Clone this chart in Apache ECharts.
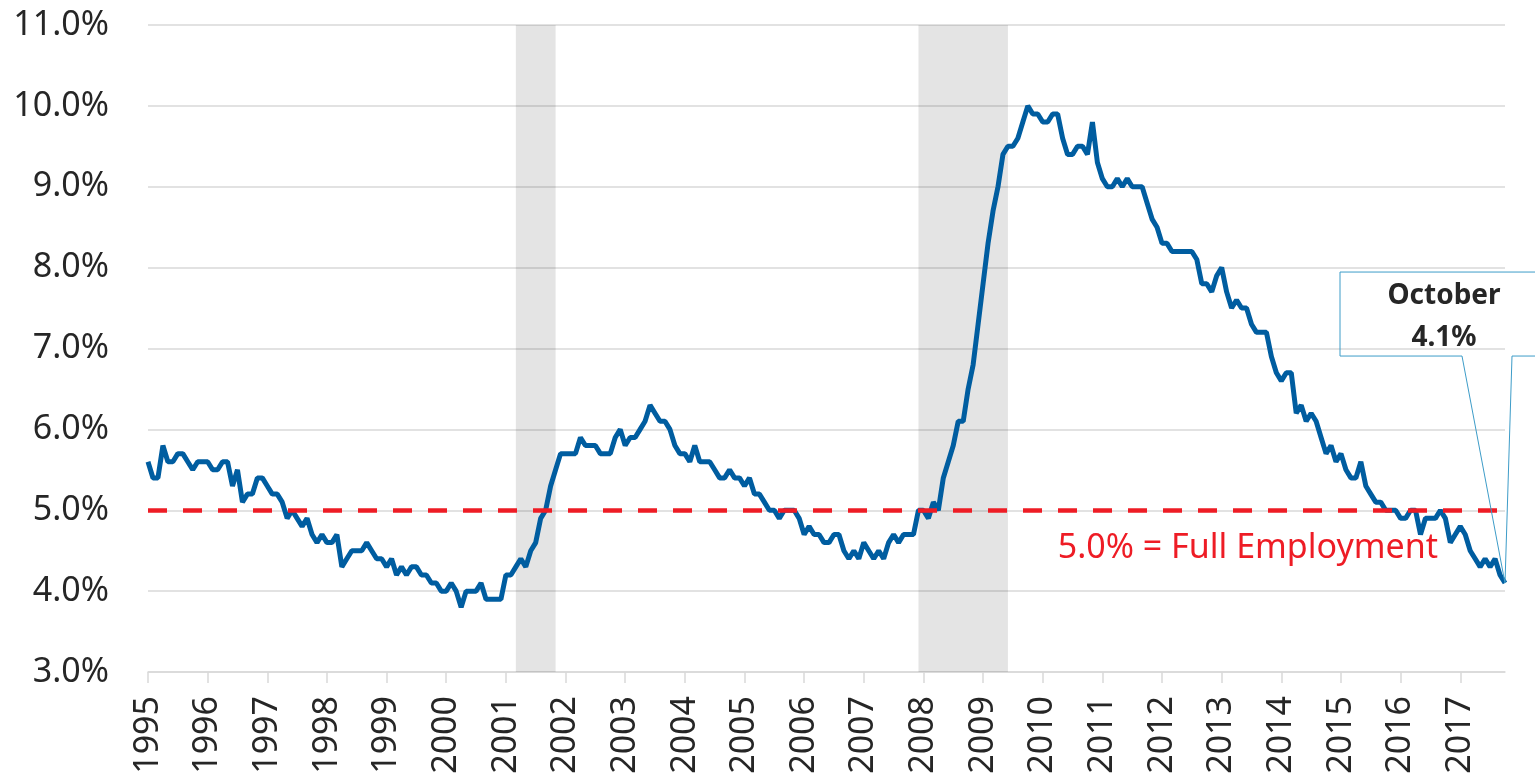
<!DOCTYPE html>
<html>
<head>
<meta charset="utf-8">
<script src="https://cdn.jsdelivr.net/npm/echarts@6/dist/echarts.min.js"></script>
<style>
    html, body { margin: 0; padding: 0; background: #fff; }
    #chart-panel { width: 1535px; height: 779px; }
</style>
</head>
<body>
<div id="chart-panel"></div>
<script>
// monthly categories, Jan 1995 .. Oct 2017
var months = []
for (var y = 1995; y <= 2017; y++) {
    for (var m = 1; m <= 12; m++) {
        if (y === 2017 && m > 10) break
        months.push(y + '-' + (m < 10 ? '0' + m : m))
    }
}

// unemployment rate, %, one row per year
var rates = [
    5.6, 5.4, 5.4, 5.8, 5.6, 5.6, 5.7, 5.7, 5.6, 5.5, 5.6, 5.6, // 1995
    5.6, 5.5, 5.5, 5.6, 5.6, 5.3, 5.5, 5.1, 5.2, 5.2, 5.4, 5.4, // 1996
    5.3, 5.2, 5.2, 5.1, 4.9, 5.0, 4.9, 4.8, 4.9, 4.7, 4.6, 4.7, // 1997
    4.6, 4.6, 4.7, 4.3, 4.4, 4.5, 4.5, 4.5, 4.6, 4.5, 4.4, 4.4, // 1998
    4.3, 4.4, 4.2, 4.3, 4.2, 4.3, 4.3, 4.2, 4.2, 4.1, 4.1, 4.0, // 1999
    4.0, 4.1, 4.0, 3.8, 4.0, 4.0, 4.0, 4.1, 3.9, 3.9, 3.9, 3.9, // 2000
    4.2, 4.2, 4.3, 4.4, 4.3, 4.5, 4.6, 4.9, 5.0, 5.3, 5.5, 5.7, // 2001
    5.7, 5.7, 5.7, 5.9, 5.8, 5.8, 5.8, 5.7, 5.7, 5.7, 5.9, 6.0, // 2002
    5.8, 5.9, 5.9, 6.0, 6.1, 6.3, 6.2, 6.1, 6.1, 6.0, 5.8, 5.7, // 2003
    5.7, 5.6, 5.8, 5.6, 5.6, 5.6, 5.5, 5.4, 5.4, 5.5, 5.4, 5.4, // 2004
    5.3, 5.4, 5.2, 5.2, 5.1, 5.0, 5.0, 4.9, 5.0, 5.0, 5.0, 4.9, // 2005
    4.7, 4.8, 4.7, 4.7, 4.6, 4.6, 4.7, 4.7, 4.5, 4.4, 4.5, 4.4, // 2006
    4.6, 4.5, 4.4, 4.5, 4.4, 4.6, 4.7, 4.6, 4.7, 4.7, 4.7, 5.0, // 2007
    5.0, 4.9, 5.1, 5.0, 5.4, 5.6, 5.8, 6.1, 6.1, 6.5, 6.8, 7.3, // 2008
    7.8, 8.3, 8.7, 9.0, 9.4, 9.5, 9.5, 9.6, 9.8, 10.0, 9.9, 9.9, // 2009
    9.8, 9.8, 9.9, 9.9, 9.6, 9.4, 9.4, 9.5, 9.5, 9.4, 9.8, 9.3, // 2010
    9.1, 9.0, 9.0, 9.1, 9.0, 9.1, 9.0, 9.0, 9.0, 8.8, 8.6, 8.5, // 2011
    8.3, 8.3, 8.2, 8.2, 8.2, 8.2, 8.2, 8.1, 7.8, 7.8, 7.7, 7.9, // 2012
    8.0, 7.7, 7.5, 7.6, 7.5, 7.5, 7.3, 7.2, 7.2, 7.2, 6.9, 6.7, // 2013
    6.6, 6.7, 6.7, 6.2, 6.3, 6.1, 6.2, 6.1, 5.9, 5.7, 5.8, 5.6, // 2014
    5.7, 5.5, 5.4, 5.4, 5.6, 5.3, 5.2, 5.1, 5.1, 5.0, 5.0, 5.0, // 2015
    4.9, 4.9, 5.0, 5.0, 4.7, 4.9, 4.9, 4.9, 5.0, 4.9, 4.6, 4.7, // 2016
    4.8, 4.7, 4.5, 4.4, 4.3, 4.4, 4.3, 4.4, 4.2, 4.1            // 2017
]

var recessions = [['2001-03', '2001-11'], ['2007-12', '2009-06']]
var fullEmployment = 5.0
var yTicks = [3, 11, 1] // min, max, step

var textColor = '#262626'
var font = 'Noto Sans'

chartOption = {
    backgroundColor: '#fff',
    animation: false,
    grid: {
        left: 148,
        right: 30,
        top: 25,
        bottom: 107
    },
    xAxis: {
        type: 'category',
        data: months,
        boundaryGap: false,
        axisLine: {
            lineStyle: { color: '#d9d9d9', width: 1.5 }
        },
        axisTick: {
            interval: 11,
            length: 11,
            lineStyle: { color: '#d9d9d9', width: 1.5 }
        },
        axisLabel: {
            interval: 11,
            rotate: 90,
            margin: 24,
            fontSize: 34,
            fontFamily: font,
            color: textColor,
            formatter: function (value) {
                return value.slice(0, 4)
            }
        },
        splitLine: { show: false }
    },
    yAxis: {
        type: 'value',
        min: yTicks[0],
        max: yTicks[1],
        interval: yTicks[2],
        axisLine: { show: false },
        axisTick: { show: false },
        axisLabel: {
            margin: 39,
            fontSize: 34,
            fontFamily: font,
            color: textColor,
            formatter: function (value) {
                return value.toFixed(1) + '%'
            }
        },
        splitLine: {
            lineStyle: { color: '#d9d9d9', width: 1.5 }
        }
    },
    series: [{
        // recession shading
        type: 'line',
        data: [],
        z: 1,
        markArea: {
            silent: true,
            itemStyle: { color: 'rgba(0,0,0,0.105)' },
            data: recessions.map(function (r) {
                return [{ xAxis: r[0] }, { xAxis: r[1] }]
            })
        }
    }, {
        type: 'line',
        data: rates,
        symbol: 'none',
        z: 3,
        lineStyle: { color: '#005da0', width: 5 }
    }, {
        // full employment line
        type: 'line',
        data: [],
        z: 4,
        markLine: {
            silent: true,
            symbol: ['none', 'none'],
            label: { show: false },
            lineStyle: { color: '#ee1c25', width: 4.5, type: [19, 16] },
            data: [{ yAxis: fullEmployment }]
        }
    }]
};

var myChart = echarts.init(document.getElementById('chart-panel'));
myChart.setOption(chartOption);

// callout + full employment label, placed from the data
var last = rates.length - 1
var tip = myChart.convertToPixel({ seriesIndex: 1 }, [last, rates[last]])
var feY = myChart.convertToPixel({ yAxisIndex: 0 }, fullEmployment)
var L = tip[0] - 165, T = tip[1] - 311, B = tip[1] - 227, R = tip[0] + 60

myChart.setOption({
    graphic: [{
        type: 'polyline',
        silent: true,
        z: 10,
        shape: {
            points: [[tip[0] + 7, B], [R, B], [R, T], [L, T], [L, B], [tip[0] - 43, B], tip, [tip[0] + 7, B]]
        },
        style: { stroke: '#3d9cc8', lineWidth: 1, fill: null }
    }, {
        type: 'text',
        silent: true,
        z: 10,
        x: tip[0] - 61,
        y: tip[1] - 266,
        style: {
            text: 'October\n' + rates[last].toFixed(1) + '%',
            fill: textColor,
            font: 'bold 28px "Noto Sans"',
            lineHeight: 42,
            align: 'center',
            verticalAlign: 'middle'
        }
    }, {
        type: 'text',
        silent: true,
        z: 10,
        x: tip[0] - 67,
        y: feY + 38,
        style: {
            text: fullEmployment.toFixed(1) + '% = Full Employment',
            fill: '#ee1c25',
            font: '34px "Noto Sans"',
            align: 'right',
            verticalAlign: 'middle'
        }
    }]
});
</script>
</body>
</html>
